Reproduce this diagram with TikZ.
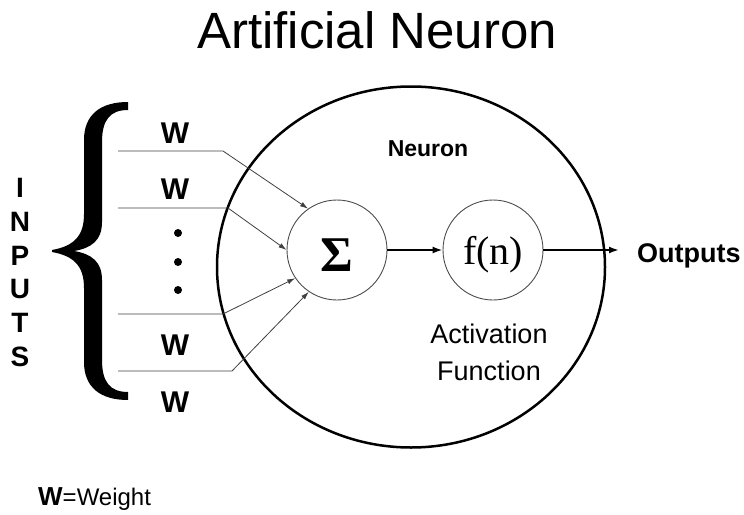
\documentclass[tikz,border=0pt]{standalone}
\usepackage{fontspec}
\setmainfont{Liberation Sans}
\newfontfamily\seriffont{Liberation Serif}
\usetikzlibrary{arrows.meta, positioning, shapes.geometric}

\begin{document}
\begin{tikzpicture}[x=1pt, y=-1pt,
	unit/.style={draw=black!70, circle, line width=0.9pt, minimum size=100pt, inner sep=0pt},
	wlabel/.style={anchor=base, inner sep=0pt, font=\fontsize{30}{34}\selectfont\bfseries},
	txt/.style={inner sep=0pt},
	inarrow/.style={-{Latex[length=8pt, width=5pt]}, line width=0.8pt, draw=black!75},
	mainarrow/.style={-{Latex[length=10pt, width=7pt]}, line width=1.8pt},
	dotnode/.style={circle, fill=black, inner sep=0pt, minimum size=8pt}
	]
	\useasboundingbox (0,0) rectangle (744,514);
	
	% Title
	\node[txt, anchor=base, font=\fontsize{51}{60}\selectfont] (title) at (377,48) {Artificial Neuron};
	
	% Neuron body and its two units
	\node[draw, ellipse, line width=2.5pt, minimum width=388pt, minimum height=361pt, inner sep=0pt] (neuron) at (411,267) {};
	\node[txt, anchor=base, font=\fontsize{23}{28}\selectfont\bfseries] (neuronlabel) at (428,156) {Neuron};
	
	\node[unit, text height=43pt, text depth=0pt, font=\seriffont\bfseries\fontsize{50}{50}\selectfont] (sum) at (337,250) {Σ};
	\node[unit, text depth=0pt, font=\seriffont\fontsize{40}{40}\selectfont] (act) at (493,250) {f(n)};
	
	\node[txt, anchor=north, align=center, font=\fontsize{27}{37}\selectfont] (actlabel) at (489,324) {Activation\\Function};
	
	\draw[mainarrow] (sum) -- (act);
	
	\node[txt, anchor=base west, font=\fontsize{27}{32}\selectfont\bfseries] (outputs) at (637,262) {Outputs};
	\draw[mainarrow, shorten >=18pt] (act.east) -- (act.east -| outputs.west);
	
	% Inputs
	\node[txt, anchor=north, align=center, font=\fontsize{28}{33.8}\selectfont\bfseries] (inputs) at (20,178) {I\\N\\P\\U\\T\\S};
	
	\fill (52,250) .. controls (74,246) and (84,236) .. (84,214)
		-- (84,140) .. controls (84,115) and (100,102) .. (128,102)
		-- (128,110) .. controls (110,110) and (102,120) .. (102,142)
		-- (102,222) .. controls (102,240) and (92,248) .. (74,251)
		.. controls (92,254) and (102,262) .. (102,280)
		-- (102,360) .. controls (102,382) and (110,392) .. (128,392)
		-- (128,400) .. controls (100,400) and (84,387) .. (84,362)
		-- (84,288) .. controls (84,266) and (74,256) .. (52,252) -- cycle;
	
	\coordinate (in1) at (118,151);
	\coordinate (in2) at (118,208);
	\coordinate (in3) at (118,314);
	\coordinate (in4) at (118,371);
	
	\draw[inarrow] (in1) -- ++(105,0) -- (sum.125);
	\draw[inarrow] (in2) -- ++(110,0) -- (sum.180);
	\draw[inarrow] (in3) -- ++(105,0) -- (sum.214);
	\draw[inarrow] (in4) -- ++(114,0) -- (sum.236);
	
	\node[wlabel] (w1) at (175,143) {W};
	\node[wlabel] (w2) at (175,199) {W};
	\node[wlabel] (w3) at (175,355) {W};
	\node[wlabel] (w4) at (175,412) {W};
	
	\node[dotnode] (dot1) at (178,233) {};
	\node[dotnode] (dot2) at (178,262) {};
	\node[dotnode] (dot3) at (178,290) {};
	
	% Legend
	\node[txt, anchor=base west] (legend) at (38,505) {{\fontsize{26}{30}\selectfont\bfseries W}{\fontsize{24}{28}\selectfont =Weight}};
	
\end{tikzpicture}
\end{document}
